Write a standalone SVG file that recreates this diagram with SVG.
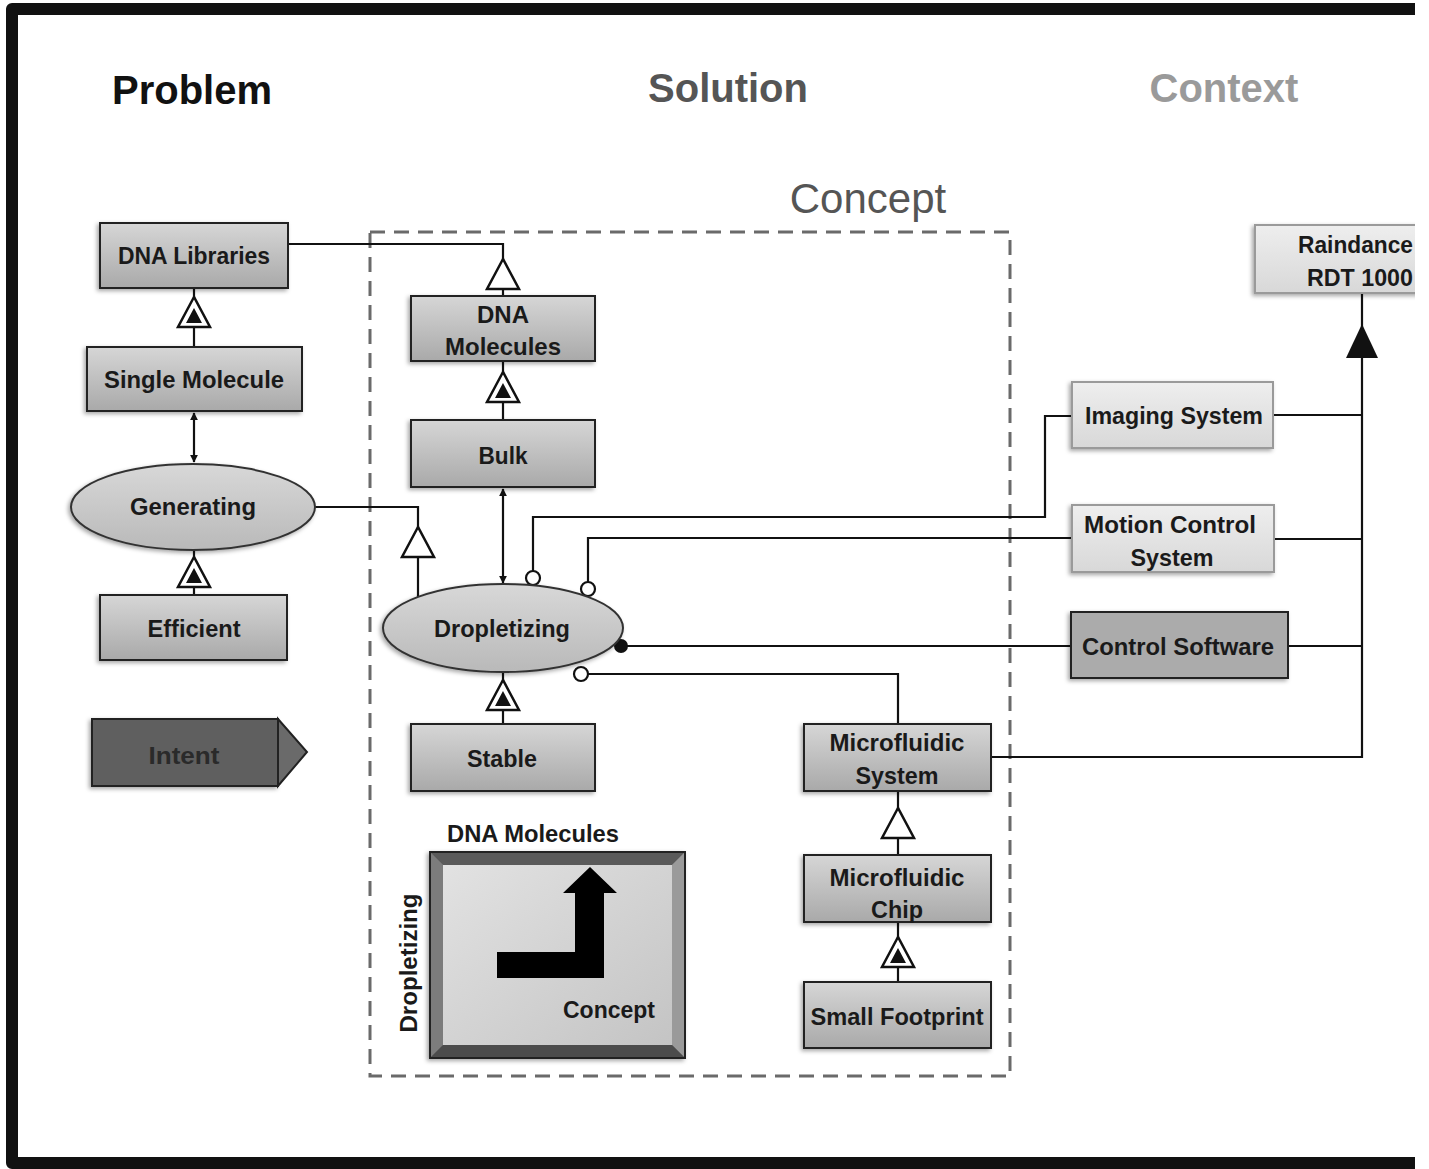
<svg xmlns="http://www.w3.org/2000/svg" width="1429" height="1169" viewBox="0 0 1429 1169">
<defs>
<style>
.lbl{font-family:"Liberation Sans",Arial,sans-serif;font-weight:bold;font-size:24px;fill:#1a1a1a;text-anchor:middle}
.ttl{font-family:"Liberation Sans",Arial,sans-serif;font-weight:bold;font-size:40px;text-anchor:middle}
.box{fill:url(#gGray);stroke:#222;stroke-width:2;filter:url(#sh)}
.lbox{fill:url(#gLight);stroke:#9a9a9a;stroke-width:2;filter:url(#sh)}
.ell{fill:url(#gEll);stroke:#333;stroke-width:2;filter:url(#sh)}
.ln{fill:none;stroke:#111;stroke-width:2.2}
.oc{fill:#fff;stroke:#111;stroke-width:2.2}
</style>
<linearGradient id="gGray" x1="0" y1="0" x2="0" y2="1"><stop offset="0" stop-color="#d6d6d6"/><stop offset="1" stop-color="#a9a9a9"/></linearGradient>
<linearGradient id="gLight" x1="0" y1="0" x2="0" y2="1"><stop offset="0" stop-color="#eeeeee"/><stop offset="1" stop-color="#d8d8d8"/></linearGradient>
<linearGradient id="gEll" x1="0" y1="0" x2="0" y2="1"><stop offset="0" stop-color="#d8d8d8"/><stop offset="1" stop-color="#b9b9b9"/></linearGradient>
<linearGradient id="gIn" x1="0" y1="0" x2="1" y2="1"><stop offset="0" stop-color="#e2e2e2"/><stop offset="1" stop-color="#c4c4c4"/></linearGradient>
<filter id="sh" x="-10%" y="-20%" width="120%" height="140%"><feDropShadow dx="-2" dy="2" stdDeviation="2" flood-color="#000" flood-opacity="0.35"/></filter>
<marker id="ah" viewBox="0 0 10 10" refX="9" refY="5" markerWidth="8" markerHeight="8" orient="auto-start-reverse" markerUnits="userSpaceOnUse"><path d="M0,0 L10,5 L0,10 z" fill="#111"/></marker>
<g id="triO"><polygon points="0,0 -16,30 16,30" fill="#fff" stroke="#111" stroke-width="2.5"/></g>
<g id="triI"><polygon points="0,0 -16,30 16,30" fill="#fff" stroke="#111" stroke-width="2.5"/><polygon points="0,11 -8,26 8,26" fill="#111"/></g>
<clipPath id="cp"><rect x="0" y="0" width="1415" height="1169"/></clipPath>
</defs>
<rect width="1429" height="1169" fill="#fff"/>
<path d="M1415,9 H12 V1163 H1415" fill="none" stroke="#111" stroke-width="12" stroke-linejoin="round"/>

<g id="titles">
<text class="ttl" x="192" y="104" fill="#111">Problem</text>
<text class="ttl" x="728" y="102" fill="#555">Solution</text>
<text class="ttl" x="1224" y="102" fill="#9a9a9a">Context</text>
<text x="868" y="213" font-family="Liberation Sans, Arial, sans-serif" font-size="42" fill="#555" text-anchor="middle">Concept</text>
</g>

<rect id="concept-frame" x="370" y="232" width="640" height="844" fill="none" stroke="#6a6a6a" stroke-width="3" stroke-dasharray="15 9"/>

<g id="connectors">
<path class="ln" d="M288,244 H503 V296"/>
<path class="ln" d="M194,347 V288"/>
<path class="ln" d="M194,413 V462" marker-start="url(#ah)" marker-end="url(#ah)"/>
<path class="ln" d="M194,595 V550"/>
<path class="ln" d="M315,507 H418 V597"/>
<path class="ln" d="M503,420 V361"/>
<path class="ln" d="M503,489 V583" marker-start="url(#ah)" marker-end="url(#ah)"/>
<path class="ln" d="M503,724 V672"/>
<path class="ln" d="M1072,416 H1045 V517 H533 V571"/>
<path class="ln" d="M1072,538 H588 V582"/>
<path class="ln" d="M1071,646 H621"/>
<path class="ln" d="M898,725 V674 H588"/>
<path class="ln" d="M990,757 H1362 V293"/>
<path class="ln" d="M1273,415 H1362"/>
<path class="ln" d="M1274,539 H1362"/>
<path class="ln" d="M1288,646 H1362"/>
<path class="ln" d="M898,855 V791"/>
<path class="ln" d="M898,982 V921"/>
<use href="#triO" x="503" y="259"/>
<use href="#triI" x="194" y="297"/>
<use href="#triI" x="194" y="557"/>
<use href="#triO" x="418" y="527"/>
<use href="#triI" x="503" y="372"/>
<use href="#triI" x="503" y="680"/>
<use href="#triO" x="898" y="808"/>
<use href="#triI" x="898" y="937"/>
<polygon points="1362,324 1346,358 1378,358" fill="#111"/>
<circle class="oc" cx="533" cy="578" r="7"/>
<circle class="oc" cx="588" cy="589" r="7"/>
<circle cx="621" cy="646" r="7" fill="#111"/>
<circle class="oc" cx="581" cy="674" r="7"/>
</g>

<g id="dna-libraries"><rect class="box" x="100" y="223" width="188" height="65"/><text class="lbl" x="194" y="264" textLength="152" lengthAdjust="spacingAndGlyphs">DNA Libraries</text></g>
<g id="single-molecule"><rect class="box" x="87" y="347" width="215" height="64"/><text class="lbl" x="194" y="388" textLength="180" lengthAdjust="spacingAndGlyphs">Single Molecule</text></g>
<g id="generating"><ellipse class="ell" cx="193" cy="507" rx="122" ry="43"/><text class="lbl" x="193" y="515" textLength="126" lengthAdjust="spacingAndGlyphs">Generating</text></g>
<g id="efficient"><rect class="box" x="100" y="595" width="187" height="65"/><text class="lbl" x="194" y="637" textLength="93" lengthAdjust="spacingAndGlyphs">Efficient</text></g>
<g id="intent"><rect x="92" y="719" width="186" height="67" fill="#5e5e5e" stroke="#222" stroke-width="2" filter="url(#sh)"/><polygon points="278,719 307,752 278,786" fill="#6a6a6a" stroke="#222" stroke-width="2"/><text class="lbl" x="184" y="764" fill="#2a2a2a" style="fill:#2a2a2a" textLength="71" lengthAdjust="spacingAndGlyphs">Intent</text></g>

<g id="dna-molecules"><rect class="box" x="411" y="296" width="184" height="65"/><text class="lbl" x="503" y="323" textLength="52" lengthAdjust="spacingAndGlyphs">DNA</text><text class="lbl" x="503" y="355" textLength="116" lengthAdjust="spacingAndGlyphs">Molecules</text></g>
<g id="bulk"><rect class="box" x="411" y="420" width="184" height="67"/><text class="lbl" x="503" y="464" textLength="49" lengthAdjust="spacingAndGlyphs">Bulk</text></g>
<g id="dropletizing"><ellipse class="ell" cx="503" cy="628" rx="120" ry="44"/><text class="lbl" x="502" y="637" textLength="136" lengthAdjust="spacingAndGlyphs">Dropletizing</text></g>
<g id="stable"><rect class="box" x="411" y="724" width="184" height="67"/><text class="lbl" x="502" y="767" textLength="70" lengthAdjust="spacingAndGlyphs">Stable</text></g>

<g id="concept-matrix">
<text class="lbl" x="533" y="842" textLength="172" lengthAdjust="spacingAndGlyphs">DNA Molecules</text>
<rect x="430" y="852" width="255" height="206" fill="#6e6e6e" stroke="#222" stroke-width="2" filter="url(#sh)"/>
<polygon points="430,852 685,852 672,865 443,865" fill="#5a5a5a"/>
<polygon points="430,852 443,865 443,1045 430,1058" fill="#7c7c7c"/>
<polygon points="685,852 685,1058 672,1045 672,865" fill="#9a9a9a"/>
<polygon points="430,1058 443,1045 672,1045 685,1058" fill="#4c4c4c"/>
<rect x="443" y="865" width="229" height="180" fill="url(#gIn)"/>
<rect x="430" y="852" width="255" height="206" fill="none" stroke="#222" stroke-width="2"/>
<polygon points="497,952 575,952 575,893 563,893 590,867 617,893 604,893 604,978 497,978" fill="#000"/>
<text class="lbl" x="609" y="1018" textLength="92" lengthAdjust="spacingAndGlyphs">Concept</text>
<text class="lbl" transform="translate(417,963) rotate(-90)" x="0" y="0" textLength="139" lengthAdjust="spacingAndGlyphs">Dropletizing</text>
</g>

<g id="microfluidic-system"><rect class="box" x="804" y="724" width="187" height="67"/><text class="lbl" x="897" y="751" textLength="135" lengthAdjust="spacingAndGlyphs">Microfluidic</text><text class="lbl" x="897" y="784" textLength="83" lengthAdjust="spacingAndGlyphs">System</text></g>
<g id="microfluidic-chip"><rect class="box" x="804" y="855" width="187" height="67"/><text class="lbl" x="897" y="886" textLength="135" lengthAdjust="spacingAndGlyphs">Microfluidic</text><text class="lbl" x="897" y="918" textLength="52" lengthAdjust="spacingAndGlyphs">Chip</text></g>
<g id="small-footprint"><rect class="box" x="804" y="982" width="187" height="66"/><text class="lbl" x="897" y="1025" textLength="173" lengthAdjust="spacingAndGlyphs">Small Footprint</text></g>

<g id="raindance" clip-path="url(#cp)"><rect class="lbox" x="1255" y="225" width="200" height="68"/><text class="lbl" x="1413" y="253" text-anchor="end" style="text-anchor:end" textLength="115" lengthAdjust="spacingAndGlyphs">Raindance</text><text class="lbl" x="1413" y="286" style="text-anchor:end" textLength="106" lengthAdjust="spacingAndGlyphs">RDT 1000</text></g>
<g id="imaging-system"><rect class="lbox" x="1072" y="382" width="201" height="66"/><text class="lbl" x="1174" y="424" textLength="178" lengthAdjust="spacingAndGlyphs">Imaging System</text></g>
<g id="motion-control-system"><rect class="lbox" x="1072" y="505" width="202" height="67"/><text class="lbl" x="1170" y="533" textLength="172" lengthAdjust="spacingAndGlyphs">Motion Control</text><text class="lbl" x="1172" y="566" textLength="83" lengthAdjust="spacingAndGlyphs">System</text></g>
<g id="control-software"><rect x="1071" y="612" width="217" height="66" fill="#ababab" stroke="#222" stroke-width="2" filter="url(#sh)"/><text class="lbl" x="1178" y="655" textLength="192" lengthAdjust="spacingAndGlyphs">Control Software</text></g>
</svg>
